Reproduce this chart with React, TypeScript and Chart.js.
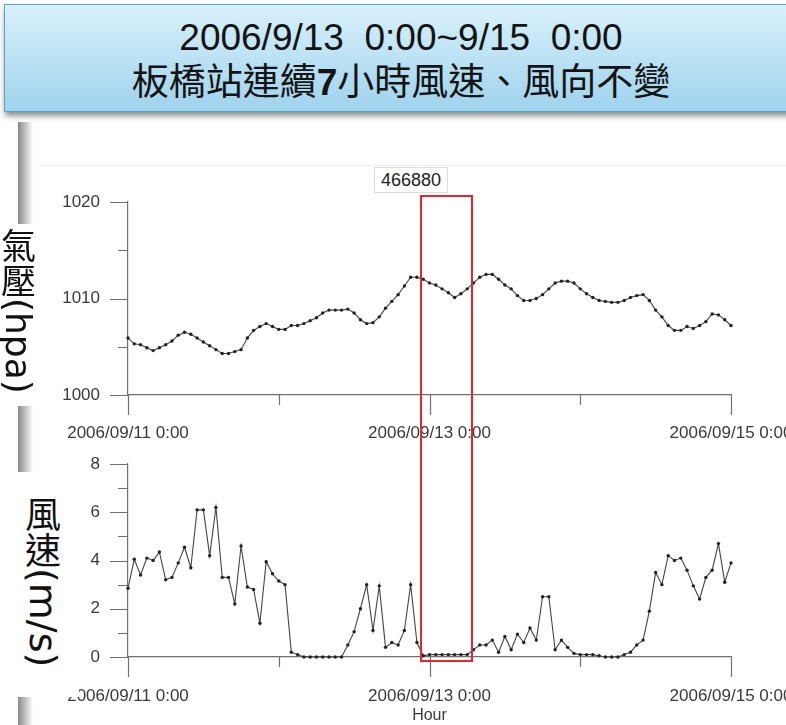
import React, { useEffect, useRef } from 'react';
import { Chart, registerables } from 'chart.js';

Chart.register(...registerables);

// ---------- data ----------
const HOURS: number[] = Array.from({ length: 97 }, (_, i) => i); // hours since 2006/09/11 0:00

const X_TICK_VALUES = [0, 24, 48, 72, 96];
const X_TICK_LABELS = ['2006/09/11 0:00', '', '2006/09/13 0:00', '', '2006/09/15 0:00'];

const PRESSURE_TICK_VALUES = [1000, 1005, 1010, 1015, 1020];
const PRESSURE_TICK_LABELS = ['1000', '', '1010', '', '1020'];

const WIND_TICK_VALUES = [0, 1, 2, 3, 4, 5, 6, 7, 8];
const WIND_TICK_LABELS = ['0', '', '2', '', '4', '', '6', '', '8'];

const PRESSURE = [
  1005.9, 1005.3, 1005.2, 1004.9, 1004.6, 1004.9, 1005.2, 1005.6, 1006.2, 1006.5,
  1006.3, 1005.9, 1005.5, 1005.1, 1004.7, 1004.3, 1004.3, 1004.5, 1004.7, 1005.9,
  1006.7, 1007.1, 1007.4, 1007.1, 1006.8, 1006.8, 1007.2, 1007.2, 1007.4, 1007.7,
  1008.0, 1008.5, 1008.8, 1008.8, 1008.8, 1008.9, 1008.5, 1007.8, 1007.4, 1007.5,
  1008.1, 1009.0, 1009.7, 1010.4, 1011.3, 1012.2, 1012.2, 1012.0, 1011.6, 1011.4,
  1011.0, 1010.6, 1010.1, 1010.5, 1011.0, 1011.6, 1012.2, 1012.5, 1012.5, 1012.0,
  1011.4, 1011.0, 1010.3, 1009.8, 1009.8, 1010.0, 1010.4, 1011.0, 1011.6, 1011.8,
  1011.8, 1011.6, 1011.0, 1010.5, 1010.1, 1009.8, 1009.7, 1009.6, 1009.6, 1009.8,
  1010.1, 1010.3, 1010.4, 1009.8, 1008.8, 1008.1, 1007.2, 1006.7, 1006.7, 1007.1,
  1006.9, 1007.2, 1007.6, 1008.4, 1008.3, 1007.8, 1007.2,
];

const WIND = [
  2.85, 4.05, 3.4, 4.1, 4.0, 4.35, 3.2, 3.3, 3.9, 4.55,
  3.7, 6.1, 6.1, 4.2, 6.2, 3.3, 3.3, 2.2, 4.6, 2.9,
  2.8, 1.4, 3.95, 3.45, 3.15, 3.0, 0.2, 0.1, 0, 0,
  0, 0, 0, 0, 0, 0.5, 1.05, 2.0, 3.0, 1.1,
  2.95, 0.4, 0.6, 0.5, 1.1, 3.0, 0.6, 0.05, 0.1, 0.1,
  0.1, 0.1, 0.1, 0.1, 0.1, 0.3, 0.5, 0.5, 0.7, 0.2,
  0.85, 0.3, 0.95, 0.6, 1.2, 0.7, 2.5, 2.5, 0.3, 0.7,
  0.4, 0.15, 0.1, 0.1, 0.1, 0.05, 0, 0, 0, 0.1,
  0.2, 0.5, 0.7, 1.9, 3.5, 3.0, 4.2, 4.0, 4.1, 3.6,
  2.95, 2.4, 3.3, 3.6, 4.7, 3.1, 3.9,
];

// highlighted period (hours) and its vertical reach in each panel's units
const HIGHLIGHT_FROM = 46.5;
const HIGHLIGHT_TO = 54.9;
const HIGHLIGHT_TOP_PRESSURE = 1020.7;
const HIGHLIGHT_BOTTOM_WIND = -0.2;

const STATION = '466880';

// ---------- style ----------
const AXIS_COLOR = '#707070';
const TEXT_COLOR = '#3a3a3a';
const LINE_COLOR = '#444444';
const SANS = '"Liberation Sans", Arial, sans-serif';
const CJK = '"Noto Sans CJK TC", "Noto Sans CJK SC", sans-serif';
const WIDE_LATIN = '"DejaVu Sans", sans-serif';

const CANVAS_W = 900;
const PLOT_LEFT = 128;
const PLOT_RIGHT = 731;

const tickPlugin = {
  id: 'customTicks',
  afterDraw(chart: any) {
    const ctx = chart.ctx;
    const xs = chart.scales.x;
    const ys = chart.scales.y;
    const area = chart.chartArea;
    const tv: number[] = chart.options.plugins.customTicks.values;
    const tl: string[] = chart.options.plugins.customTicks.labels;
    ctx.save();
    ctx.strokeStyle = AXIS_COLOR;
    ctx.lineWidth = 1.2;
    ctx.beginPath();
    xs.ticks.forEach((t: any) => {
      const px = Math.round(xs.getPixelForValue(t.value)) + 0.5;
      const len = t.value % 48 === 0 ? 20 : 10;
      ctx.moveTo(px, area.bottom);
      ctx.lineTo(px, area.bottom + len);
    });
    ys.ticks.forEach((t: any) => {
      const py = Math.round(ys.getPixelForValue(t.value)) + 0.5;
      const major = tl[tv.indexOf(t.value)] !== '';
      const len = major ? 18 : 10;
      ctx.moveTo(area.left, py);
      ctx.lineTo(area.left - len, py);
    });
    ctx.stroke();
    ctx.restore();
  },
};

function makeConfig(opts: {
  values: number[];
  min: number;
  max: number;
  tickValues: number[];
  tickLabels: string[];
  padTop: number;
  xAxisH: number;
  xPad: number;
  title: boolean;
}): any {
  return {
    type: 'line',
    data: {
      datasets: [
        {
          data: HOURS.map((h, i) => ({ x: h, y: opts.values[i] })),
          borderColor: LINE_COLOR,
          borderWidth: 1.1,
          pointRadius: 1.7,
          pointBackgroundColor: '#222',
          pointBorderWidth: 0,
          tension: 0,
          clip: 4,
        },
      ],
    },
    options: {
      animation: false,
      responsive: false,
      devicePixelRatio: 1,
      events: [],
      layout: { padding: { top: opts.padTop, left: 0, right: CANVAS_W - PLOT_RIGHT, bottom: 0 } },
      plugins: {
        legend: { display: false },
        tooltip: { enabled: false },
        customTicks: { values: opts.tickValues, labels: opts.tickLabels },
      },
      scales: {
        x: {
          type: 'linear',
          min: 0,
          max: 96,
          afterBuildTicks: (s: any) => {
            s.ticks = X_TICK_VALUES.map((v) => ({ value: v }));
          },
          afterFit: (s: any) => {
            s.height = opts.xAxisH;
          },
          grid: { display: true, drawOnChartArea: false, drawTicks: false },
          border: { display: true, color: AXIS_COLOR, width: 1.2 },
          ticks: {
            autoSkip: false,
            maxRotation: 0,
            padding: opts.xPad,
            color: TEXT_COLOR,
            font: { family: SANS, size: 17 },
            callback: (v: number) => X_TICK_LABELS[X_TICK_VALUES.indexOf(v)] ?? '',
          },
          title: {
            display: opts.title,
            text: 'Hour',
            color: TEXT_COLOR,
            font: { family: SANS, size: 16 },
            padding: { top: 0, bottom: 0 },
          },
        },
        y: {
          type: 'linear',
          min: opts.min,
          max: opts.max,
          afterBuildTicks: (s: any) => {
            s.ticks = opts.tickValues.map((v) => ({ value: v }));
          },
          afterFit: (s: any) => {
            s.width = PLOT_LEFT;
          },
          grid: { display: true, drawOnChartArea: false, drawTicks: false },
          border: { display: true, color: AXIS_COLOR, width: 1.2 },
          ticks: {
            autoSkip: false,
            padding: 28,
            color: TEXT_COLOR,
            font: { family: SANS, size: 17 },
            callback: (v: number) => opts.tickLabels[opts.tickValues.indexOf(v)] ?? '',
          },
        },
      },
    },
    plugins: [tickPlugin],
  };
}

const TOP_CANVAS_Y = 130;
const TOP_CANVAS_H = 320;
const BOT_CANVAS_Y = 414;
const BOT_CANVAS_H = 311;

export default function App() {
  const topRef = useRef<HTMLCanvasElement>(null);
  const botRef = useRef<HTMLCanvasElement>(null);
  const boxRef = useRef<HTMLDivElement>(null);

  useEffect(() => {
    const top = new Chart(
      topRef.current!,
      makeConfig({
        values: PRESSURE,
        min: 1000,
        max: 1020,
        tickValues: PRESSURE_TICK_VALUES,
        tickLabels: PRESSURE_TICK_LABELS,
        padTop: 72,
        xAxisH: 55,
        xPad: 28,
        title: false,
      })
    );
    const bot = new Chart(
      botRef.current!,
      makeConfig({
        values: WIND,
        min: 0,
        max: 8,
        tickValues: WIND_TICK_VALUES,
        tickLabels: WIND_TICK_LABELS,
        padTop: 50,
        xAxisH: 68,
        xPad: 29,
        title: true,
      })
    );
    const box = boxRef.current;
    if (box) {
      const l = top.scales.x.getPixelForValue(HIGHLIGHT_FROM);
      const r = top.scales.x.getPixelForValue(HIGHLIGHT_TO);
      const t = TOP_CANVAS_Y + top.scales.y.getPixelForValue(HIGHLIGHT_TOP_PRESSURE);
      const b = BOT_CANVAS_Y + bot.scales.y.getPixelForValue(HIGHLIGHT_BOTTOM_WIND);
      box.style.left = `${l}px`;
      box.style.top = `${t}px`;
      box.style.width = `${r - l}px`;
      box.style.height = `${b - t}px`;
      box.style.display = 'block';
    }
    return () => {
      top.destroy();
      bot.destroy();
    };
  }, []);

  return (
    <div
      style={{
        position: 'absolute',
        left: 0,
        top: 0,
        width: 786,
        height: 725,
        overflow: 'hidden',
        background: '#fff',
      }}
    >
      {/* title box */}
      <div
        style={{
          position: 'absolute',
          left: 4,
          top: 4,
          width: 800,
          height: 108,
          boxSizing: 'border-box',
          background: 'linear-gradient(#d9f1fb, #9fd3ed)',
          border: '1.5px solid #4fa6cc',
          boxShadow: '1px 4px 6px rgba(0,0,0,0.45)',
        }}
      >
        <div
          style={{
            position: 'absolute',
            left: -4,
            top: 12,
            width: 800,
            textAlign: 'center',
            fontFamily: SANS,
            fontSize: 37,
            lineHeight: '42px',
            color: '#141414',
            whiteSpace: 'pre',
          }}
        >
          {'2006/9/13  0:00~9/15  0:00'}
        </div>
        <div
          style={{
            position: 'absolute',
            left: -4,
            top: 53,
            width: 800,
            textAlign: 'center',
            fontFamily: CJK,
            fontSize: 37,
            lineHeight: '42px',
            color: '#141414',
            whiteSpace: 'pre',
          }}
        >
          板橋站連續<b style={{ fontFamily: SANS }}>7</b>小時風速、風向不變
        </div>
      </div>

      {/* left grey strip of the pasted picture */}
      <div
        style={{
          position: 'absolute',
          left: 18,
          top: 122,
          width: 15,
          height: 610,
          background: 'linear-gradient(to right, #8a8a8a, #c8c8c8 55%, #ffffff)',
        }}
      />
      {/* faint top edge of the pasted picture */}
      <div
        style={{ position: 'absolute', left: 40, top: 165, width: 760, height: 1, background: '#f0f0f0' }}
      />

      <canvas
        ref={topRef}
        width={CANVAS_W}
        height={TOP_CANVAS_H}
        style={{ position: 'absolute', left: 0, top: TOP_CANVAS_Y, width: CANVAS_W, height: TOP_CANVAS_H }}
      />
      <canvas
        ref={botRef}
        width={CANVAS_W}
        height={BOT_CANVAS_H}
        style={{ position: 'absolute', left: 0, top: BOT_CANVAS_Y, width: CANVAS_W, height: BOT_CANVAS_H }}
      />

      {/* station id label */}
      <div
        style={{
          position: 'absolute',
          left: 374,
          top: 167,
          width: 74,
          height: 26,
          boxSizing: 'border-box',
          border: '1px solid #dcdcdc',
          background: '#fff',
          fontFamily: SANS,
          fontSize: 18,
          lineHeight: '24px',
          textAlign: 'center',
          color: '#222',
        }}
      >
        {STATION}
      </div>

      {/* highlight rectangle */}
      <div
        ref={boxRef}
        style={{
          position: 'absolute',
          display: 'none',
          boxSizing: 'border-box',
          border: '2px solid #e8252b',
        }}
      />

      {/* vertical axis labels */}
      <div
        style={{
          position: 'absolute',
          left: 0,
          top: 224,
          width: 36,
          height: 182,
          background: '#fff',
        }}
      >
        <div
          style={{
            position: 'absolute',
            left: 0,
            top: 4,
            width: 36,
            writingMode: 'vertical-rl',
            textOrientation: 'mixed',
            fontFamily: CJK,
            fontSize: 35,
            lineHeight: '36px',
            color: '#111',
            whiteSpace: 'nowrap',
          }}
        >
          氣壓<span style={{ fontFamily: WIDE_LATIN, fontSize: 36 }}>(hpa)</span>
        </div>
      </div>
      <div
        style={{
          position: 'absolute',
          left: 0,
          top: 472,
          width: 79,
          height: 225,
          background: '#fff',
        }}
      >
        <div
          style={{
            position: 'absolute',
            left: 24,
            top: 24,
            width: 38,
            writingMode: 'vertical-rl',
            textOrientation: 'mixed',
            fontFamily: CJK,
            fontSize: 36,
            lineHeight: '38px',
            color: '#111',
            whiteSpace: 'nowrap',
          }}
        >
          風速<span style={{ fontFamily: WIDE_LATIN, fontSize: 38 }}>(m/s)</span>
        </div>
      </div>
    </div>
  );
}
